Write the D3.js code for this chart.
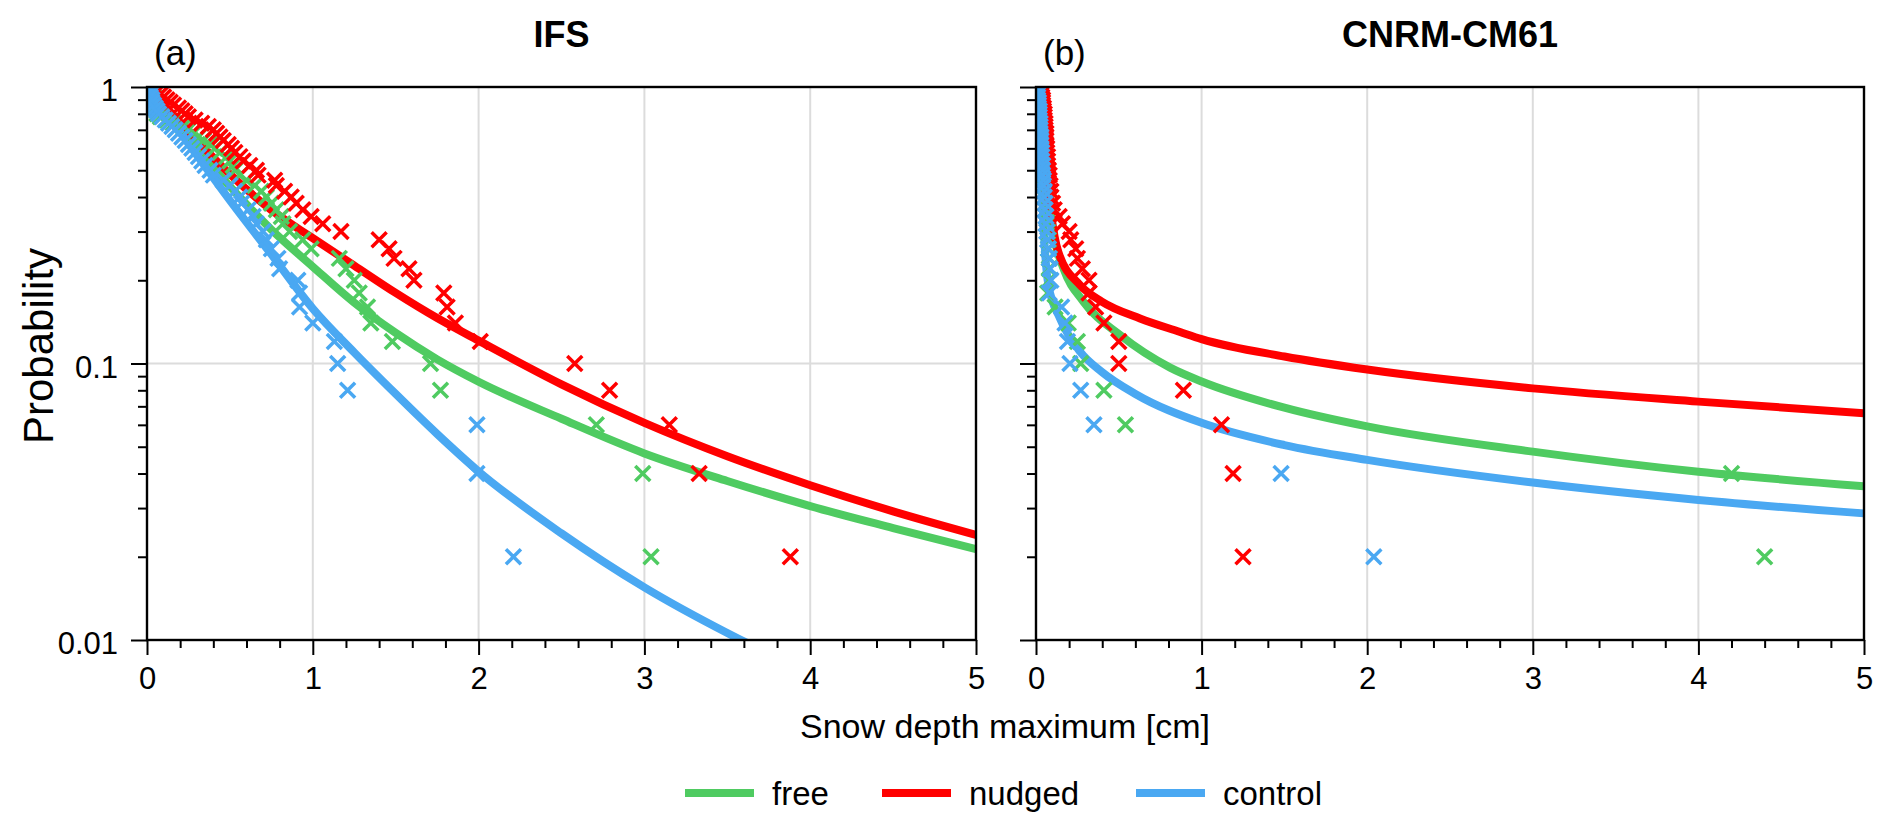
<!DOCTYPE html>
<html>
<head>
<meta charset="utf-8">
<script src="https://cdn.jsdelivr.net/npm/d3@7"></script>
<style>
  html, body { margin: 0; padding: 0; background: #fff; }
  text { font-family: "Liberation Sans", Arial, Helvetica, sans-serif; fill: #000; }
</style>
</head>
<body>
<script>
// exceedance probability of each ranked sample (shared by all scatter series)
const probLevels = [1.00, 0.98, 0.96, 0.94, 0.92, 0.90, 0.88, 0.86, 0.84, 0.82,
                    0.80, 0.78, 0.76, 0.74, 0.72, 0.70, 0.68, 0.66, 0.64, 0.62,
                    0.60, 0.58, 0.56, 0.54, 0.52, 0.50, 0.48, 0.46, 0.44, 0.42,
                    0.40, 0.38, 0.36, 0.34, 0.32, 0.30, 0.28, 0.26, 0.24, 0.22,
                    0.20, 0.18, 0.16, 0.14, 0.12, 0.10, 0.08, 0.06, 0.04, 0.02];

// (a) IFS - snow depth of each sample [cm]
const ifsFreeX = [0.01, 0.02, 0.03, 0.03, 0.04, 0.04, 0.05, 0.05, 0.05, 0.06,
                  0.06, 0.08, 0.12, 0.16, 0.22, 0.25, 0.28, 0.31, 0.34, 0.38,
                  0.41, 0.44, 0.48, 0.50, 0.52, 0.53, 0.56, 0.60, 0.65, 0.69,
                  0.72, 0.75, 0.78, 0.81, 0.82, 0.86, 0.94, 0.99, 1.16, 1.20,
                  1.25, 1.28, 1.33, 1.35, 1.48, 1.71, 1.77, 2.71, 2.99, 3.04];
const ifsNudgedX = [0.02, 0.04, 0.06, 0.08, 0.10, 0.12, 0.14, 0.16, 0.19, 0.21,
                    0.23, 0.25, 0.29, 0.33, 0.37, 0.40, 0.42, 0.44, 0.46, 0.49,
                    0.51, 0.53, 0.56, 0.58, 0.62, 0.66, 0.67, 0.77, 0.78, 0.83,
                    0.87, 0.90, 0.94, 0.99, 1.06, 1.17, 1.40, 1.46, 1.49, 1.58,
                    1.61, 1.79, 1.81, 1.86, 2.01, 2.58, 2.79, 3.15, 3.33, 3.88];
const ifsControlX = [0.00, 0.01, 0.01, 0.02, 0.02, 0.03, 0.03, 0.04, 0.05, 0.06,
                     0.07, 0.09, 0.11, 0.13, 0.15, 0.17, 0.19, 0.21, 0.23, 0.25,
                     0.27, 0.29, 0.31, 0.33, 0.35, 0.38, 0.40, 0.46, 0.50, 0.53,
                     0.56, 0.57, 0.61, 0.64, 0.66, 0.70, 0.72, 0.75, 0.79, 0.80,
                     0.91, 0.92, 0.92, 1.00, 1.13, 1.15, 1.21, 1.99, 1.99, 2.21];

// (b) CNRM-CM61 - snow depth of each sample [cm]
const cnrmFreeX = [0.005, 0.01, 0.01, 0.015, 0.015, 0.02, 0.02, 0.02, 0.025, 0.025,
                   0.025, 0.03, 0.03, 0.03, 0.035, 0.035, 0.035, 0.04, 0.04, 0.04,
                   0.04, 0.045, 0.045, 0.045, 0.05, 0.05, 0.05, 0.055, 0.055, 0.06,
                   0.06, 0.06, 0.065, 0.065, 0.07, 0.07, 0.075, 0.075, 0.08, 0.08,
                   0.08, 0.07, 0.115, 0.195, 0.25, 0.27, 0.41, 0.54, 4.20, 4.40];
const cnrmNudgedX = [0.02, 0.025, 0.03, 0.03, 0.035, 0.04, 0.04, 0.04, 0.045, 0.045,
                     0.05, 0.05, 0.05, 0.055, 0.055, 0.055, 0.06, 0.06, 0.06, 0.06,
                     0.065, 0.065, 0.07, 0.07, 0.07, 0.075, 0.08, 0.08, 0.085, 0.09,
                     0.09, 0.10, 0.11, 0.14, 0.16, 0.20, 0.21, 0.24, 0.25, 0.28,
                     0.32, 0.32, 0.36, 0.41, 0.50, 0.50, 0.89, 1.12, 1.19, 1.25];
const cnrmControlX = [0.0, 0.005, 0.005, 0.01, 0.01, 0.01, 0.015, 0.015, 0.015, 0.02,
                      0.02, 0.02, 0.02, 0.025, 0.025, 0.025, 0.025, 0.03, 0.03, 0.03,
                      0.03, 0.035, 0.035, 0.035, 0.04, 0.04, 0.04, 0.045, 0.045, 0.05,
                      0.05, 0.055, 0.055, 0.06, 0.06, 0.065, 0.07, 0.075, 0.08, 0.085,
                      0.09, 0.08, 0.155, 0.175, 0.19, 0.205, 0.27, 0.35, 1.48, 2.04];

// fitted curves
const ifsCurveX = [0, 0.25, 0.5, 0.75, 1, 1.25, 1.5, 1.75, 2, 2.5, 3, 3.5, 4, 4.5, 5];
const ifsFreeFit = [0.955, 0.646, 0.437, 0.305, 0.224, 0.166, 0.129, 0.1035, 0.0859, 0.0631, 0.0473, 0.0376, 0.0305, 0.0254, 0.0213];
const ifsNudgedFit = [1.0, 0.692, 0.484, 0.359, 0.284, 0.226, 0.180, 0.146, 0.121, 0.0841, 0.061, 0.0462, 0.0363, 0.0292, 0.024];
const ifsControlFit = [1.0, 0.624, 0.389, 0.248, 0.158, 0.1096, 0.0776, 0.0556, 0.0407, 0.0243, 0.0155, 0.0106, 0.0076, 0.0056, 0.0042];

const cnrmFreeFitX = [0.025, 0.05, 0.075, 0.105, 0.165, 0.286, 0.507, 0.81, 1.0, 1.5, 2, 3, 4, 5];
const cnrmFreeFit = [1.0, 0.562, 0.380, 0.292, 0.221, 0.1675, 0.1268, 0.0966, 0.0861, 0.0692, 0.0592, 0.048, 0.0406, 0.036];
const cnrmNudgedFitX = [0.03, 0.05, 0.065, 0.09, 0.135, 0.266, 0.397, 0.628, 0.87, 1.0, 1.5, 2, 3, 4, 5];
const cnrmNudgedFit = [1.0, 0.708, 0.508, 0.355, 0.253, 0.192, 0.1675, 0.1455, 0.130, 0.1225, 0.106, 0.0951, 0.0813, 0.0728, 0.0661];
const cnrmControlFitX = [0.02, 0.035, 0.05, 0.075, 0.145, 0.266, 0.397, 0.6, 1.0, 1.5, 2, 3, 4, 5];
const cnrmControlFit = [1.0, 0.447, 0.282, 0.192, 0.1455, 0.1104, 0.0933, 0.0776, 0.061, 0.0507, 0.0448, 0.0371, 0.0321, 0.0287];

// axes
const xTicks = [0, 1, 2, 3, 4, 5];
const yTicks = [0.01, 0.1, 1];
const yTickLabels = ["0.01", "0.1", "1"];
const seriesNames = ["free", "nudged", "control"];
const seriesColors = ["#4fcb61", "#ff0000", "#4aa8f2"];

const W = 1892, H = 832;
const plotTop = 87, plotBottom = 640;

const svg = d3.select("body").append("svg")
    .attr("width", W)
    .attr("height", H);
svg.append("rect").attr("width", W).attr("height", H).attr("fill", "#fff");

const y = d3.scaleLog().domain([0.01, 1]).range([plotBottom, plotTop]);

const panels = [
    { id: "a", title: "IFS", left: 147, right: 976, labels: true,
      scatter: [ifsFreeX, ifsNudgedX, ifsControlX],
      fitX: [ifsCurveX, ifsCurveX, ifsCurveX],
      fit: [ifsFreeFit, ifsNudgedFit, ifsControlFit] },
    { id: "b", title: "CNRM-CM61", left: 1036, right: 1864, labels: false,
      scatter: [cnrmFreeX, cnrmNudgedX, cnrmControlX],
      fitX: [cnrmFreeFitX, cnrmNudgedFitX, cnrmControlFitX],
      fit: [cnrmFreeFit, cnrmNudgedFit, cnrmControlFit] }
];

const minorX = d3.range(0, 5.001, 0.2).filter(v => Math.abs(v - Math.round(v)) > 1e-6);
const minorY = [2, 3, 4, 5, 6, 7, 8, 9].map(d => d * 0.01).concat([2, 3, 4, 5, 6, 7, 8, 9].map(d => d * 0.1));

panels.forEach(function (p) {
    const x = d3.scaleLinear().domain([0, 5]).range([p.left, p.right]);
    const g = svg.append("g");

    // clip to the plotting box
    g.append("clipPath").attr("id", "clip-" + p.id)
        .append("rect")
        .attr("x", p.left).attr("y", plotTop)
        .attr("width", p.right - p.left).attr("height", plotBottom - plotTop);

    // grid
    const grid = g.append("g").attr("stroke", "#dcdcdc").attr("stroke-width", 2);
    grid.selectAll(".gx").data(xTicks.slice(1, -1)).join("line")
        .attr("x1", d => x(d)).attr("x2", d => x(d))
        .attr("y1", plotTop).attr("y2", plotBottom);
    grid.selectAll(".gy").data([0.1]).join("line")
        .attr("x1", p.left).attr("x2", p.right)
        .attr("y1", d => y(d)).attr("y2", d => y(d));

    const plot = g.append("g").attr("clip-path", "url(#clip-" + p.id + ")");

    // fitted lines
    const line = d3.line()
        .x(d => x(d[0]))
        .y(d => y(d[1]))
        .curve(d3.curveMonotoneX);
    p.fit.forEach(function (vals, i) {
        const pts = vals.map((v, k) => [p.fitX[i][k], v]);
        plot.append("path")
            .attr("d", line(pts))
            .attr("fill", "none")
            .attr("stroke", seriesColors[i])
            .attr("stroke-width", 8)
            .attr("stroke-linecap", "butt");
    });

    // sample crosses
    p.scatter.forEach(function (xs, i) {
        plot.append("g").selectAll("path")
            .data(xs.map((v, k) => [v, probLevels[k]]))
            .join("path")
            .attr("transform", d => `translate(${x(d[0])},${y(d[1])})`)
            .attr("d", "M-7.5,-7.5L7.5,7.5M-7.5,7.5L7.5,-7.5")
            .attr("fill", "none")
            .attr("stroke", seriesColors[i])
            .attr("stroke-width", 3.5);
    });

    // x axis: major + minor ticks
    const xAxis = g.append("g")
        .attr("transform", `translate(0,${plotBottom})`)
        .call(d3.axisBottom(x).tickValues(xTicks).tickSize(15).tickPadding(12).tickFormat(d3.format("d")));
    xAxis.select(".domain").remove();
    xAxis.selectAll("line").attr("stroke-width", 2);
    xAxis.selectAll("text").attr("font-size", 31).attr("font-family", null);

    const xMinor = g.append("g")
        .attr("transform", `translate(0,${plotBottom})`)
        .call(d3.axisBottom(x).tickValues(minorX).tickSize(8).tickFormat(""));
    xMinor.select(".domain").remove();
    xMinor.selectAll("line").attr("stroke-width", 2);

    // y axis: major + minor ticks
    const yAxis = g.append("g")
        .attr("transform", `translate(${p.left},0)`)
        .call(d3.axisLeft(y).tickValues(yTicks).tickSize(16).tickPadding(13)
            .tickFormat((d, k) => p.labels ? yTickLabels[k] : ""));
    yAxis.select(".domain").remove();
    yAxis.selectAll("line").attr("stroke-width", 2);
    yAxis.selectAll("text").attr("font-size", 31).attr("font-family", null).attr("dy", "0.45em");

    const yMinor = g.append("g")
        .attr("transform", `translate(${p.left},0)`)
        .call(d3.axisLeft(y).tickValues(minorY).tickSize(9).tickFormat(""));
    yMinor.select(".domain").remove();
    yMinor.selectAll("line").attr("stroke-width", 2);

    // frame
    g.append("rect")
        .attr("x", p.left).attr("y", plotTop)
        .attr("width", p.right - p.left).attr("height", plotBottom - plotTop)
        .attr("fill", "none").attr("stroke", "#000").attr("stroke-width", 2.4);

    // titles
    g.append("text")
        .attr("x", (p.left + p.right) / 2).attr("y", 47)
        .attr("text-anchor", "middle")
        .attr("font-size", 36).attr("font-weight", "bold")
        .text(p.title);
    g.append("text")
        .attr("x", p.left + 7).attr("y", 65)
        .attr("font-size", 35)
        .text("(" + p.id + ")");
});

// axis labels
svg.append("text")
    .attr("transform", "translate(53,346) rotate(-90)")
    .attr("text-anchor", "middle")
    .attr("font-size", 42)
    .text("Probability");
svg.append("text")
    .attr("x", 1005).attr("y", 738)
    .attr("text-anchor", "middle")
    .attr("font-size", 34)
    .text("Snow depth maximum [cm]");

// legend
const legendStarts = [685, 882, 1136];
const legend = svg.append("g");
seriesNames.forEach(function (name, i) {
    legend.append("line")
        .attr("x1", legendStarts[i]).attr("x2", legendStarts[i] + 69)
        .attr("y1", 793).attr("y2", 793)
        .attr("stroke", seriesColors[i]).attr("stroke-width", 8);
    legend.append("text")
        .attr("x", legendStarts[i] + 87).attr("y", 805)
        .attr("font-size", 33)
        .text(name);
});
</script>
</body>
</html>
